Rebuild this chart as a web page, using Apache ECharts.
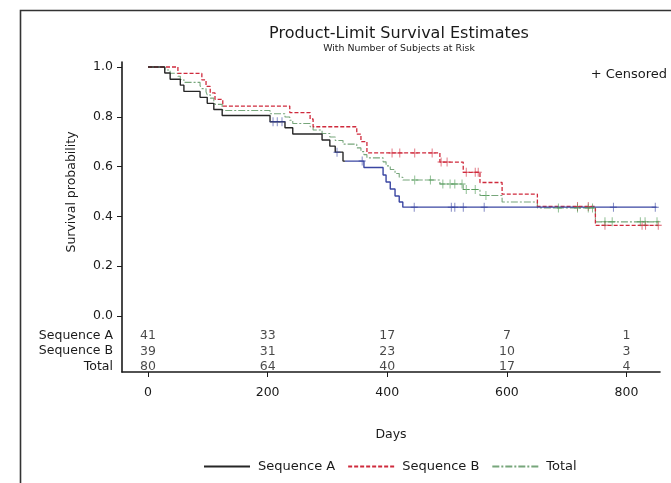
<!DOCTYPE html>
<html>
<head>
<meta charset="utf-8">
<script src="https://cdn.jsdelivr.net/npm/echarts@6/dist/echarts.min.js"></script>
<style>
  html, body { margin: 0; padding: 0; background: #fff; }
  #chart { width: 671px; height: 483px; }
</style>
</head>
<body>
<div id="chart"></div>
<script>
// Kaplan-Meier step estimates: each point is (day, survival from that day on)
const seqADays = [0, 28, 37, 54, 60, 87, 99, 110, 124, 204, 229, 242, 291, 304, 313, 326, 361, 393, 398, 405, 413, 420, 426, 850];
const seqASurv = [1.000, 0.976, 0.951, 0.927, 0.902, 0.878, 0.854, 0.829, 0.805, 0.780, 0.756, 0.731, 0.707, 0.682, 0.658, 0.622, 0.596, 0.566, 0.538, 0.510, 0.482, 0.458, 0.437, 0.437];
const seqACensored = [209, 216, 224, 316, 358, 445, 507, 513, 527, 562, 778, 848];

const seqBDays = [0, 50, 90, 97, 104, 112, 125, 237, 271, 276, 349, 356, 366, 488, 527, 555, 592, 651, 748, 853];
const seqBSurv = [1.000, 0.974, 0.948, 0.922, 0.896, 0.870, 0.843, 0.817, 0.791, 0.760, 0.730, 0.700, 0.655, 0.618, 0.577, 0.536, 0.489, 0.440, 0.364, 0.364];
const seqBCensored = [408, 421, 446, 475, 490, 500, 532, 547, 552, 718, 736, 764, 826, 832, 853];

const totalDays = [0, 28, 37, 50, 54, 60, 87, 90, 97, 99, 104, 110, 112, 124, 125, 204, 229, 237, 242, 271, 276, 291, 304, 313, 326, 349, 356, 361, 366, 393, 398, 405, 413, 420, 426, 488, 527, 555, 592, 651, 748, 853];
const totalSurv = [1.000, 0.988, 0.975, 0.963, 0.950, 0.938, 0.925, 0.913, 0.900, 0.888, 0.875, 0.863, 0.850, 0.838, 0.825, 0.812, 0.799, 0.786, 0.773, 0.760, 0.747, 0.733, 0.719, 0.705, 0.690, 0.675, 0.660, 0.648, 0.635, 0.619, 0.603, 0.588, 0.572, 0.557, 0.546, 0.530, 0.508, 0.484, 0.458, 0.434, 0.378, 0.378];
const totalCensored = [446, 472, 493, 505, 513, 525, 532, 547, 565, 686, 718, 736, 743, 764, 776, 823, 831, 851];

// Number at risk table
const riskDays = [0, 200, 400, 600, 800];
const riskRows = ['Sequence A', 'Sequence B', 'Total'];
const riskSeqA = [41, 33, 17, 7, 1];
const riskSeqB = [39, 31, 23, 10, 3];
const riskTotal = [80, 64, 40, 17, 4];

const yTicks = [0, 0.2, 0.4, 0.6, 0.8, 1.0];
const xTicks = [0, 200, 400, 600, 800];

const FONT = '"DejaVu Sans", sans-serif';
const INK = '#1a1a1a';
const A_DARK = '#262626', A_BLUE = '#3a46a2';
const B_RED = '#cf2a3c', T_GREEN = '#77a67b';

function pairs(xs, ys) { return xs.map((x, i) => [x, ys[i]]); }

// survival value of a step curve at day t
function survAt(xs, ys, t) {
  let v = ys[0];
  for (let i = 0; i < xs.length; i++) { if (xs[i] <= t) v = ys[i]; }
  return v;
}
function censorPoints(xs, ys, cs) { return cs.map(t => [t, survAt(xs, ys, t)]); }

const plus = 'path://M4,0 h1 v4 h4 v1 h-4 v4 h-1 v-4 h-4 v-1 h4 z';

// Sequence A is drawn dark over the early overlap and blue afterwards
const aSplit = (330 - seqADays[0]) / (seqADays[seqADays.length - 1] - seqADays[0]);
const aColor = new echarts.graphic.LinearGradient(0, 0, 1, 0, [
  { offset: 0, color: A_DARK }, { offset: aSplit, color: A_DARK },
  { offset: aSplit, color: A_BLUE }, { offset: 1, color: A_BLUE }
]);

// vertical positions of the at-risk rows, in survival units below 0
const rowY = [-0.080, -0.145, -0.205];
const riskData = [];
[riskSeqA, riskSeqB, riskTotal].forEach((row, r) => {
  row.forEach((n, i) => riskData.push([riskDays[i], rowY[r], n]));
});

const chart = echarts.init(document.getElementById('chart'));
chart.setOption({
  animation: false,
  backgroundColor: '#fff',
  textStyle: { fontFamily: FONT },
  title: {
    text: 'Product-Limit Survival Estimates',
    subtext: 'With Number of Subjects at Risk',
    left: 394, top: 21, textAlign: 'center', itemGap: 2,
    textStyle: { fontFamily: FONT, fontSize: 16, fontWeight: 'normal', color: INK },
    subtextStyle: { fontFamily: FONT, fontSize: 9.4, color: INK }
  },
  grid: { left: 122, right: 11, top: 62, bottom: 111 },
  xAxis: {
    type: 'value', min: -43.5, max: 856,
    splitLine: { show: false },
    axisLine: { onZero: false, lineStyle: { color: INK, width: 1.6 } },
    axisTick: { customValues: xTicks, length: 5, lineStyle: { color: INK } },
    axisLabel: { customValues: xTicks, margin: 14, fontSize: 12.5, color: INK, fontFamily: FONT },
    name: 'Days', nameLocation: 'middle', nameGap: 56,
    nameTextStyle: { fontSize: 12.5, color: INK, fontFamily: FONT }
  },
  yAxis: {
    type: 'value', min: -0.225, max: 1.02,
    splitLine: { show: false },
    axisLine: { show: true, onZero: false, lineStyle: { color: INK, width: 1.6 } },
    axisTick: { show: true, customValues: yTicks, length: 5, lineStyle: { color: INK } },
    axisLabel: { customValues: yTicks, margin: 9, fontSize: 12.5, color: INK, fontFamily: FONT,
      formatter: v => v.toFixed(1) }
  },
  legend: {
    bottom: 5, left: 198,
    itemWidth: 46, itemHeight: 10, itemGap: 12,
    itemStyle: { opacity: 0 },
    data: [
      { name: 'Sequence A', lineStyle: { color: A_DARK } },
      { name: 'Sequence B' },
      { name: 'Total' }
    ],
    textStyle: { fontSize: 13, color: INK, fontFamily: FONT, padding: [0, 0, 0, 3] }
  },
  series: [
    { name: 'Sequence A', type: 'line', step: 'end', symbol: 'none',
      color: A_DARK, lineStyle: { width: 1.4, color: aColor }, data: pairs(seqADays, seqASurv), z: 4 },
    { name: 'Sequence B', type: 'line', step: 'end', symbol: 'none',
      color: B_RED, lineStyle: { width: 1.3, type: [4, 2] }, data: pairs(seqBDays, seqBSurv), z: 3 },
    { name: 'Total', type: 'line', step: 'end', symbol: 'none',
      color: T_GREEN, lineStyle: { width: 1.1, type: [7, 2, 2, 2] }, data: pairs(totalDays, totalSurv), z: 2 },
    { name: 'A censored', type: 'scatter', symbol: plus, symbolSize: [7, 9],
      itemStyle: { color: A_BLUE }, data: censorPoints(seqADays, seqASurv, seqACensored), z: 5 },
    { name: 'B censored', type: 'scatter', symbol: plus, symbolSize: [7, 9],
      itemStyle: { color: B_RED }, data: censorPoints(seqBDays, seqBSurv, seqBCensored), z: 5 },
    { name: 'Total censored', type: 'scatter', symbol: plus, symbolSize: [7, 9],
      itemStyle: { color: '#4f9a55' }, data: censorPoints(totalDays, totalSurv, totalCensored), z: 5 },
    { name: 'At risk', type: 'scatter', symbolSize: 0, data: riskData, silent: true,
      label: { show: true, position: 'inside', formatter: p => String(p.value[2]),
        fontSize: 12.5, color: INK, fontFamily: FONT } }
  ],
  graphic: [
    { type: 'rect', left: 18, top: 8, silent: true,
      shape: { width: 700, height: 520 },
      style: { fill: 'none', stroke: '#333', lineWidth: 1.6 } },
    { type: 'text', x: 72, y: 192, rotation: Math.PI / 2, silent: true,
      style: { text: 'Survival probability', fill: INK, font: '12.5px "DejaVu Sans", sans-serif',
        align: 'center', verticalAlign: 'middle' } },
    { type: 'text', right: 4, top: 68, silent: true,
      style: { text: '+ Censored', fill: INK, font: '13px ' + FONT } },
    ...riskRows.map((r, i) => ({
      type: 'text', right: 671 - 113, top: 329 + i * 15.5, silent: true,
      style: { text: r, fill: INK, font: '12.5px ' + FONT } }))
  ]
});
</script>
</body>
</html>
